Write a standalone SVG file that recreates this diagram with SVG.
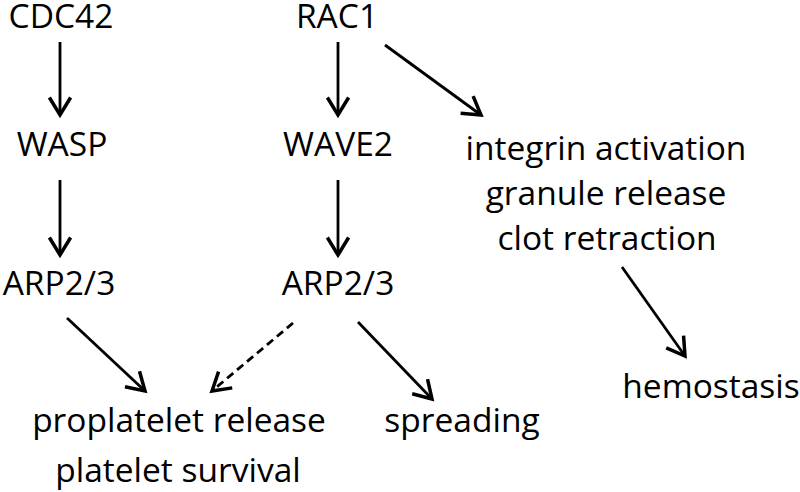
<svg xmlns="http://www.w3.org/2000/svg" width="800" height="492" viewBox="0 0 800 492">
<style>
text{font-family:"Open Sans","Liberation Sans",sans-serif;font-size:33.5px;fill:#000;text-anchor:middle}
.c{stroke:#000;stroke-width:2.8;fill:none}
.d{stroke-dasharray:8 5}
</style>
<defs>
<marker id="ah" markerUnits="userSpaceOnUse" markerWidth="30" markerHeight="30" refX="0" refY="0" viewBox="-16 -12 20 24" orient="auto">
<path d="M-14,-8.5 L0,0 L-14,8.5" fill="none" stroke="#000" stroke-width="2.8"/>
</marker>
</defs>
<rect width="800" height="492" fill="#fff"/>
<g id="n-cdc42"><text x="61" y="28">CDC42</text></g>
<g id="n-wasp"><text x="62" y="156">WASP</text></g>
<g id="n-arp-left"><text x="59" y="295">ARP2/3</text></g>
<g id="n-rac1"><text x="337" y="28">RAC1</text></g>
<g id="n-wave2"><text x="338" y="156">WAVE2</text></g>
<g id="n-arp-mid"><text x="338" y="295">ARP2/3</text></g>
<g id="n-integrin"><text x="606" y="160">integrin activation</text><text x="606" y="205">granule release</text><text x="607" y="250">clot retraction</text></g>
<g id="n-hemostasis"><text x="711" y="398">hemostasis</text></g>
<g id="n-proplatelet"><text x="179" y="432">proplatelet release</text><text x="178" y="482">platelet survival</text></g>
<g id="n-spreading"><text x="462" y="432">spreading</text></g>
<g id="connectors">
<path class="c" d="M60,42 L60,115" marker-end="url(#ah)"/>
<path class="c" d="M60,180 L60,255" marker-end="url(#ah)"/>
<path class="c" d="M338,42 L338,115" marker-end="url(#ah)"/>
<path class="c" d="M338,180 L338,255" marker-end="url(#ah)"/>
<path class="c" d="M385,45 L481,115" marker-end="url(#ah)"/>
<path class="c" d="M622,267 L685,356" marker-end="url(#ah)"/>
<path class="c" d="M67,318 L145,391" marker-end="url(#ah)"/>
<path class="c d" d="M293,323 L212,391" marker-end="url(#ah)"/>
<path class="c" d="M358,322 L432,399" marker-end="url(#ah)"/>
</g>
</svg>
